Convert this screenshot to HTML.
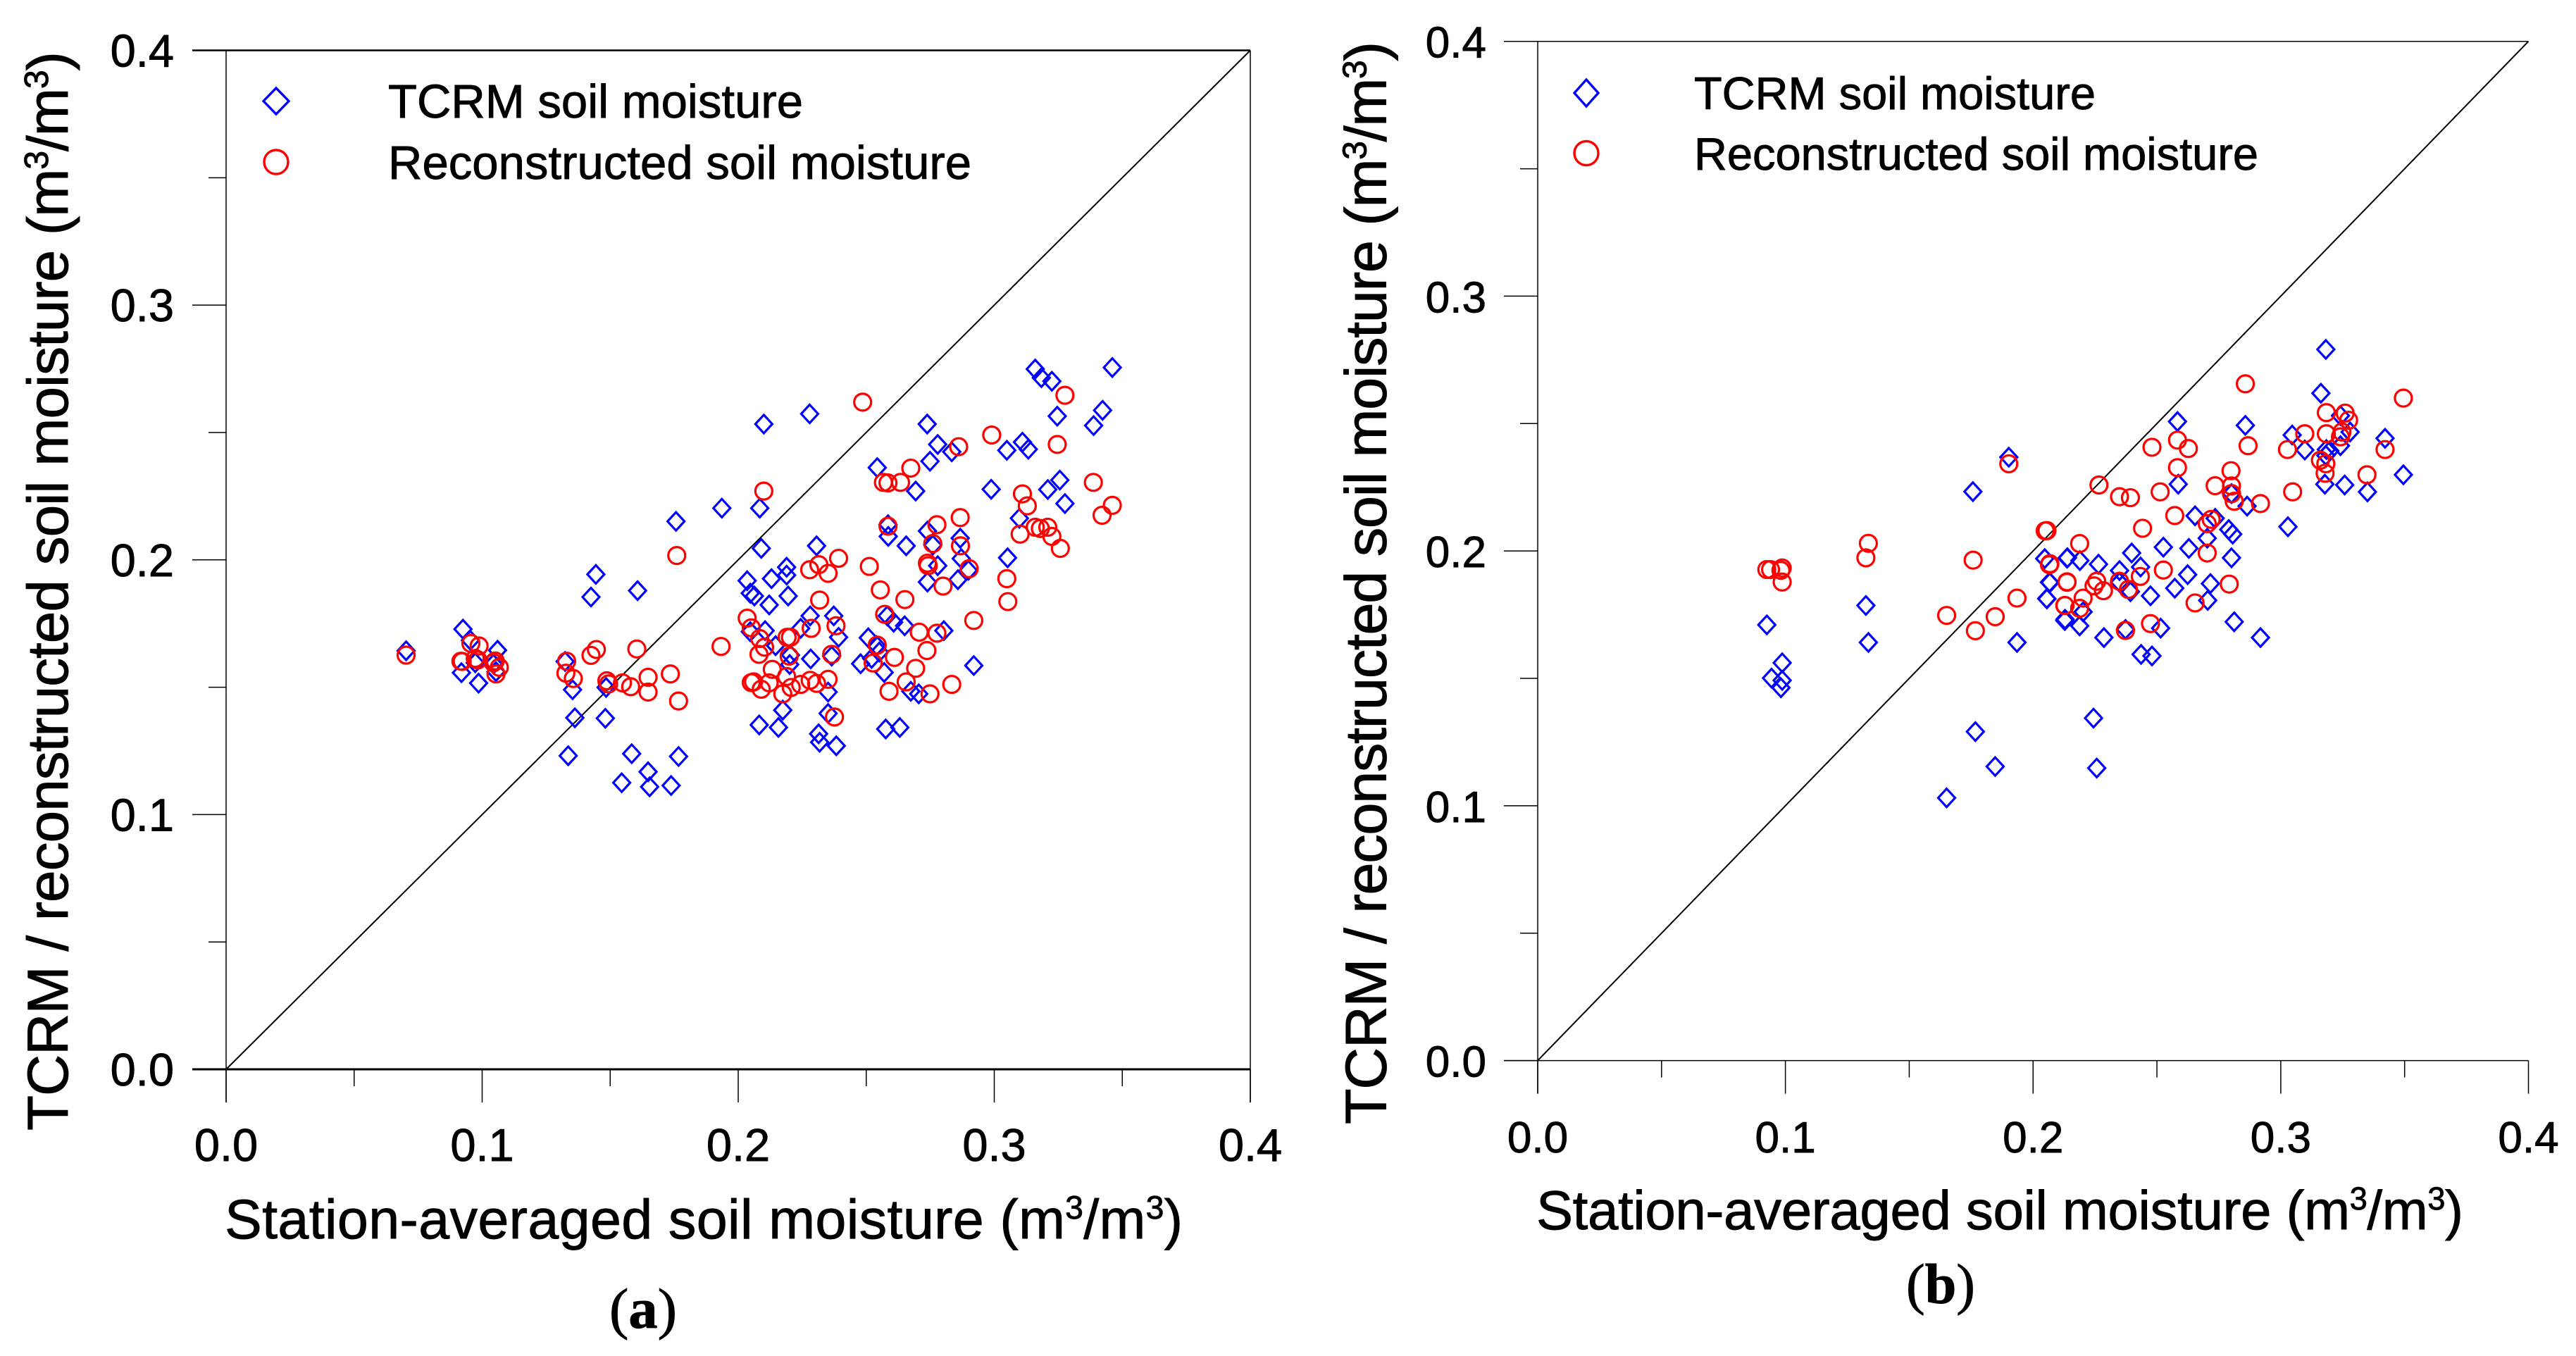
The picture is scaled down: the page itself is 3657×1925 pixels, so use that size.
<!DOCTYPE html>
<html lang="en">
<head>
<meta charset="utf-8">
<title>TCRM and reconstructed soil moisture scatter plots</title>
<style>
html,body{margin:0;padding:0;background:#fff;width:3657px;height:1925px;overflow:hidden}
svg{display:block}
text{font-family:"Liberation Sans",Arial,sans-serif;fill:#000;stroke:#000;stroke-width:.9px}
.cap{font-family:"Liberation Serif","Times New Roman",serif}
</style>
</head>
<body>
<svg id="figure" xmlns="http://www.w3.org/2000/svg" width="3657" height="1925" viewBox="0 0 3657 1925">
<rect width="3657" height="1925" fill="#fff"/>
<g id="panel-a">
<text transform="translate(96,1605) rotate(-90)" font-size="82" textLength="1532" lengthAdjust="spacing">TCRM / reconstructed soil moisture (m<tspan dy="-28" font-size="48">3</tspan><tspan dy="28">/m</tspan><tspan dy="-28" font-size="48">3</tspan><tspan dy="28">)</tspan></text>
<text x="319" y="1758" font-size="79" textLength="1360" lengthAdjust="spacing">Station-averaged soil moisture (m<tspan dy="-28" font-size="46">3</tspan><tspan dy="28">/m</tspan><tspan dy="-28" font-size="46">3</tspan><tspan dy="28">)</tspan></text>
<text class="cap" x="865" y="1885" font-size="80" textLength="96" lengthAdjust="spacingAndGlyphs">(<tspan font-weight="bold">a</tspan>)</text>
<polygon points="392,125 410,143.5 392,162 374,143.5" fill="none" stroke="#0000ff" stroke-width="3.4"/>
<circle cx="392" cy="230" r="17" fill="none" stroke="#ff0000" stroke-width="3.4"/>
<text x="551" y="167" font-size="67" textLength="589" lengthAdjust="spacing">TCRM soil moisture</text>
<text x="551" y="254" font-size="67" textLength="828" lengthAdjust="spacing">Reconstructed soil moisture</text>
</g>
<g id="panel-b">
<text transform="translate(1967.5,1596) rotate(-90)" font-size="83" textLength="1537" lengthAdjust="spacing">TCRM / reconstructed soil moisture (m<tspan dy="-28" font-size="48">3</tspan><tspan dy="28">/m</tspan><tspan dy="-28" font-size="48">3</tspan><tspan dy="28">)</tspan></text>
<text x="2181" y="1745" font-size="78" textLength="1316" lengthAdjust="spacing">Station-averaged soil moisture (m<tspan dy="-28" font-size="45">3</tspan><tspan dy="28">/m</tspan><tspan dy="-28" font-size="45">3</tspan><tspan dy="28">)</tspan></text>
<text class="cap" x="2706" y="1850" font-size="80" textLength="98" lengthAdjust="spacingAndGlyphs">(<tspan font-weight="bold">b</tspan>)</text>
<polygon points="2252,113 2269,132 2252,151 2235,132" fill="none" stroke="#0000ff" stroke-width="3.4"/>
<circle cx="2252" cy="217.5" r="17" fill="none" stroke="#ff0000" stroke-width="3.4"/>
<text x="2405" y="155" font-size="65" textLength="570" lengthAdjust="spacing">TCRM soil moisture</text>
<text x="2405" y="241" font-size="65" textLength="801" lengthAdjust="spacing">Reconstructed soil moisture</text>
</g>
</svg>
<script>
const tickValues = [0, 0.1, 0.2, 0.3, 0.4];
const tickLabels = ["0.0", "0.1", "0.2", "0.3", "0.4"];
const minorTickValues = [0.05, 0.15, 0.25, 0.35];

const panelATcrm = [[.3160,.2749],[.3461,.2755],[.3184,.2715],[.3225,.2701],[.3246,.2564],[.3423,.2587],[.3388,.2527],[.2738,.2533],[.2779,.2453],[.2834,.2424],[.3110,.2462],[.3133,.2434],[.3049,.2430],[.2749,.2387],[.2543,.2362],[.2693,.2270],[.2988,.2277],[.3256,.2313],[.3209,.2276],[.3276,.2221],[.2100,.2533],[.2279,.2573],[.1936,.2203],[.2084,.2203],[.3098,.2163],[.2585,.2138],[.2739,.2113],[.2586,.2092],[.2656,.2055],[.2867,.2085],[.2760,.2058],[.2871,.2005],[.2779,.1977],[.2739,.1913],[.2858,.1922],[.2899,.1959],[.3052,.2008],[.2090,.2045],[.2306,.2055],[.2189,.1971],[.2189,.1940],[.2035,.1918],[.2130,.1926],[.2195,.1858],[.2047,.1869],[.2063,.1858],[.2121,.1823],[.2281,.1780],[.2373,.1780],[.2244,.1731],[.2392,.1696],[.2105,.1722],[.2047,.1718],[.2146,.1663],[.2204,.1626],[.2201,.1589],[.2283,.1611],[.2365,.1622],[.2508,.1694],[.2541,.1663],[.2551,.1638],[.2478,.1592],[.2570,.1558],[.2521,.1613],[.2607,.1755],[.2650,.1741],[.2582,.1780],[.2803,.1722],[.2920,.1585],[.2674,.1484],[.2705,.1474],[.2351,.1481],[.2174,.1410],[.2082,.1352],[.2157,.1342],[.2351,.1397],[.2314,.1317],[.2318,.1284],[.2383,.1270],[.2576,.1336],[.2631,.1342],[.1757,.2151],[.1444,.1943],[.1425,.1854],[.1607,.1879],[.0703,.1643],[.0925,.1728],[.0954,.1684],[.1060,.1645],[.1044,.1591],[.1054,.1561],[.0919,.1557],[.0986,.1516],[.0973,.1596],[.1324,.1601],[.1353,.1490],[.1484,.1499],[.1362,.1380],[.1481,.1378],[.1336,.1231],[.1584,.1239],[.1767,.1228],[.1545,.1125],[.1648,.1168],[.1654,.1109],[.1738,.1114]];

const panelAReconstructed = [[.2486,.2619],[.3276,.2646],[.2990,.2490],[.3246,.2453],[.2861,.2444],[.2674,.2360],[.2567,.2304],[.2585,.2302],[.2634,.2304],[.3387,.2304],[.2100,.2270],[.3110,.2259],[.3129,.2212],[.3461,.2214],[.3421,.2175],[.2867,.2166],[.2776,.2138],[.2585,.2132],[.3160,.2128],[.3101,.2101],[.3180,.2123],[.3209,.2128],[.3225,.2092],[.3258,.2045],[.2760,.2064],[.2868,.2055],[.2739,.1987],[.2742,.1977],[.2392,.2006],[.2279,.1961],[.2315,.1981],[.2351,.1947],[.2512,.1974],[.2555,.1882],[.2902,.1965],[.2800,.1897],[.3049,.1926],[.3053,.1836],[.2318,.1842],[.2651,.1844],[.2035,.1771],[.2051,.1733],[.2572,.1786],[.2920,.1762],[.2285,.1731],[.2382,.1741],[.2707,.1716],[.2776,.1712],[.1933,.1660],[.2543,.1665],[.2084,.1691],[.2103,.1657],[.2081,.1629],[.2191,.1696],[.2204,.1696],[.2199,.1622],[.2365,.1629],[.2737,.1644],[.2610,.1617],[.2527,.1595],[.2693,.1574],[.2133,.1570],[.2656,.1521],[.2834,.1511],[.2189,.1542],[.2060,.1521],[.2051,.1518],[.2121,.1517],[.2090,.1492],[.2174,.1474],[.2207,.1499],[.2244,.1511],[.2281,.1527],[.2306,.1515],[.2351,.1531],[.2589,.1484],[.2749,.1474],[.2376,.1383],[.1760,.2017],[.1604,.1650],[.1425,.1625],[.1446,.1648],[.0703,.1626],[.0956,.1672],[.0988,.1662],[.0917,.1602],[.0983,.1607],[.1051,.1603],[.0922,.1601],[.0973,.1613],[.1044,.1596],[.1067,.1578],[.1054,.1552],[.1330,.1602],[.1327,.1555],[.1356,.1534],[.1487,.1525],[.1494,.1513],[.1548,.1517],[.1580,.1502],[.1648,.1539],[.1648,.1481],[.1735,.1552],[.1767,.1446]];

const panelBTcrm = [[.1902,.2368],[.1757,.2233],[.0925,.1710],[.0987,.1561],[.0944,.1501],[.0987,.1492],[.0982,.1463],[.1325,.1786],[.1335,.1641],[.1935,.1641],[.1767,.1291],[.1847,.1154],[.2047,.1970],[.2139,.1973],[.2068,.1876],[.2055,.1813],[.2129,.1732],[.1651,.1031],[.2244,.1344],[.2257,.1148],[.3182,.2791],[.3162,.2619],[.2583,.2508],[.2857,.2493],[.3046,.2455],[.3241,.2531],[.3280,.2467],[.3421,.2442],[.3241,.2413],[.3184,.2398],[.3198,.2393],[.3097,.2396],[.3182,.2375],[.3495,.2299],[.3258,.2259],[.3178,.2262],[.3350,.2232],[.2586,.2262],[.2801,.2225],[.2864,.2176],[.2654,.2138],[.2735,.2128],[.2790,.2084],[.2806,.2066],[.2703,.2050],[.3029,.2095],[.2526,.2015],[.2398,.1992],[.2629,.2010],[.2801,.1973],[.2137,.1972],[.2189,.1962],[.2264,.1948],[.2349,.1923],[.2434,.1937],[.2624,.1907],[.2716,.1872],[.2572,.1854],[.2474,.1824],[.2349,.1877],[.2393,.1840],[.2705,.1806],[.2202,.1761],[.2128,.1727],[.2188,.1706],[.2373,.1692],[.2515,.1697],[.2286,.1660],[.2812,.1722],[.2918,.1660],[.2436,.1594],[.2480,.1588],[.2066,.1877],[.2056,.1812]];

const panelBReconstructed = [[.1902,.2342],[.2049,.2079],[.1335,.2030],[.1325,.1973],[.1758,.1964],[.0925,.1927],[.0940,.1927],[.0987,.1933],[.0982,.1924],[.0987,.1878],[.2068,.1950],[.2137,.1879],[.1935,.1815],[.1651,.1747],[.1847,.1742],[.1767,.1687],[.2129,.1786],[.2857,.2656],[.3495,.2600],[.3184,.2543],[.3260,.2541],[.3274,.2513],[.3097,.2460],[.3184,.2460],[.3241,.2448],[.3247,.2467],[.3027,.2398],[.2868,.2413],[.2583,.2435],[.2627,.2402],[.2480,.2407],[.2583,.2327],[.3421,.2398],[.3160,.2356],[.3182,.2342],[.3179,.2305],[.3348,.2299],[.2799,.2315],[.2735,.2256],[.3048,.2232],[.2801,.2255],[.2801,.2225],[.2812,.2195],[.2918,.2186],[.2266,.2259],[.2349,.2213],[.2393,.2209],[.2513,.2232],[.2572,.2139],[.2442,.2089],[.2719,.2124],[.2703,.2107],[.2056,.2080],[.2188,.2029],[.2703,.1992],[.2066,.1946],[.2137,.1877],[.2526,.1925],[.2433,.1900],[.2257,.1881],[.2246,.1863],[.2284,.1844],[.2349,.1881],[.2385,.1849],[.2792,.1870],[.2202,.1815],[.2128,.1786],[.2188,.1775],[.2654,.1796],[.2474,.1715],[.2373,.1688]];

const NS = 'http://www.w3.org/2000/svg';

function axisScale(pixelAtZero, pixelAtMax) {
  return function (value) {
    return pixelAtZero + (pixelAtMax - pixelAtZero) * value / 0.4;
  };
}

function addLine(group, name, x1, y1, x2, y2, width) {
  const el = document.createElementNS(NS, 'line');
  
  
  el.setAttribute('x1', x1);
  el.setAttribute('y1', y1);
  el.setAttribute('x2', x2);
  el.setAttribute('y2', y2);
  el.setAttribute('stroke', '#000');
  el.setAttribute('stroke-width', width);
  group.appendChild(el);
}

function addTickLabel(group, name, x, y, size, anchor, label) {
  const el = document.createElementNS(NS, 'text');
  
  
  el.setAttribute('x', x);
  el.setAttribute('y', y);
  el.setAttribute('font-size', size);
  el.setAttribute('text-anchor', anchor);
  el.textContent = label;
  group.appendChild(el);
}

function addDiamond(group, cx, cy) {
  const el = document.createElementNS(NS, 'polygon');
  
  
  el.setAttribute('points', `${cx},${cy - 13} ${cx + 12},${cy} ${cx},${cy + 13} ${cx - 12},${cy}`);
  el.setAttribute('fill', 'none');
  el.setAttribute('stroke', '#0000ff');
  el.setAttribute('stroke-width', '3.2');
  group.appendChild(el);
}

function addCircle(group, cx, cy) {
  const el = document.createElementNS(NS, 'circle');
  
  
  el.setAttribute('cx', cx);
  el.setAttribute('cy', cy);
  el.setAttribute('r', '12');
  el.setAttribute('fill', 'none');
  el.setAttribute('stroke', '#ff0000');
  el.setAttribute('stroke-width', '3.2');
  group.appendChild(el);
}

function drawPanel(id, left, right, top, bottom, opts, tcrm, reconstructed) {
  const group = document.getElementById(id);
  const sx = axisScale(left, right);
  const sy = axisScale(bottom, top);

  addLine(group, 'x-axis-line', left - 48, bottom, right, bottom, opts.bottomWidth);
  addLine(group, 'top-border', left - 48, top, right, top, opts.topWidth);
  addLine(group, 'y-axis-line', left, top, left, bottom + 47, 1.5);
  if (opts.rightBorder) {
    addLine(group, 'right-border', right, top, right, bottom + 47, 1.5);
  }
  addLine(group, 'one-to-one-line', sx(0), sy(0), sx(0.4), sy(0.4), 2);

  tickValues.forEach(function (value, i) {
    addLine(group, 'x-major-tick', sx(value), bottom, sx(value), bottom + 47, 1.5);
    addLine(group, 'y-major-tick', left - 48, sy(value), left, sy(value), 1.5);
    addTickLabel(group, 'x-tick-label', sx(value), opts.xLabelBaseline, opts.tickSize, 'middle', tickLabels[i]);
    addTickLabel(group, 'y-tick-label', opts.yLabelRight, sy(value) + 23, opts.tickSize, 'end', tickLabels[i]);
  });
  minorTickValues.forEach(function (value) {
    addLine(group, 'x-minor-tick', sx(value), bottom, sx(value), bottom + 24, 1.5);
    addLine(group, 'y-minor-tick', left - 25, sy(value), left, sy(value), 1.5);
  });

  tcrm.forEach(function (point) {
    addDiamond(group, sx(point[0]), sy(point[1]));
  });
  reconstructed.forEach(function (point) {
    addCircle(group, sx(point[0]), sy(point[1]));
  });
}

drawPanel('panel-a', 321, 1775, 71.5, 1518,
  {bottomWidth: 3, topWidth: 2.5, rightBorder: true, xLabelBaseline: 1648, yLabelRight: 247, tickSize: 65},
  panelATcrm, panelAReconstructed);
drawPanel('panel-b', 2183, 3589.5, 58.7, 1505.6,
  {bottomWidth: 1.5, topWidth: 1.5, rightBorder: false, xLabelBaseline: 1636, yLabelRight: 2110, tickSize: 62},
  panelBTcrm, panelBReconstructed);
</script>
</body>
</html>
